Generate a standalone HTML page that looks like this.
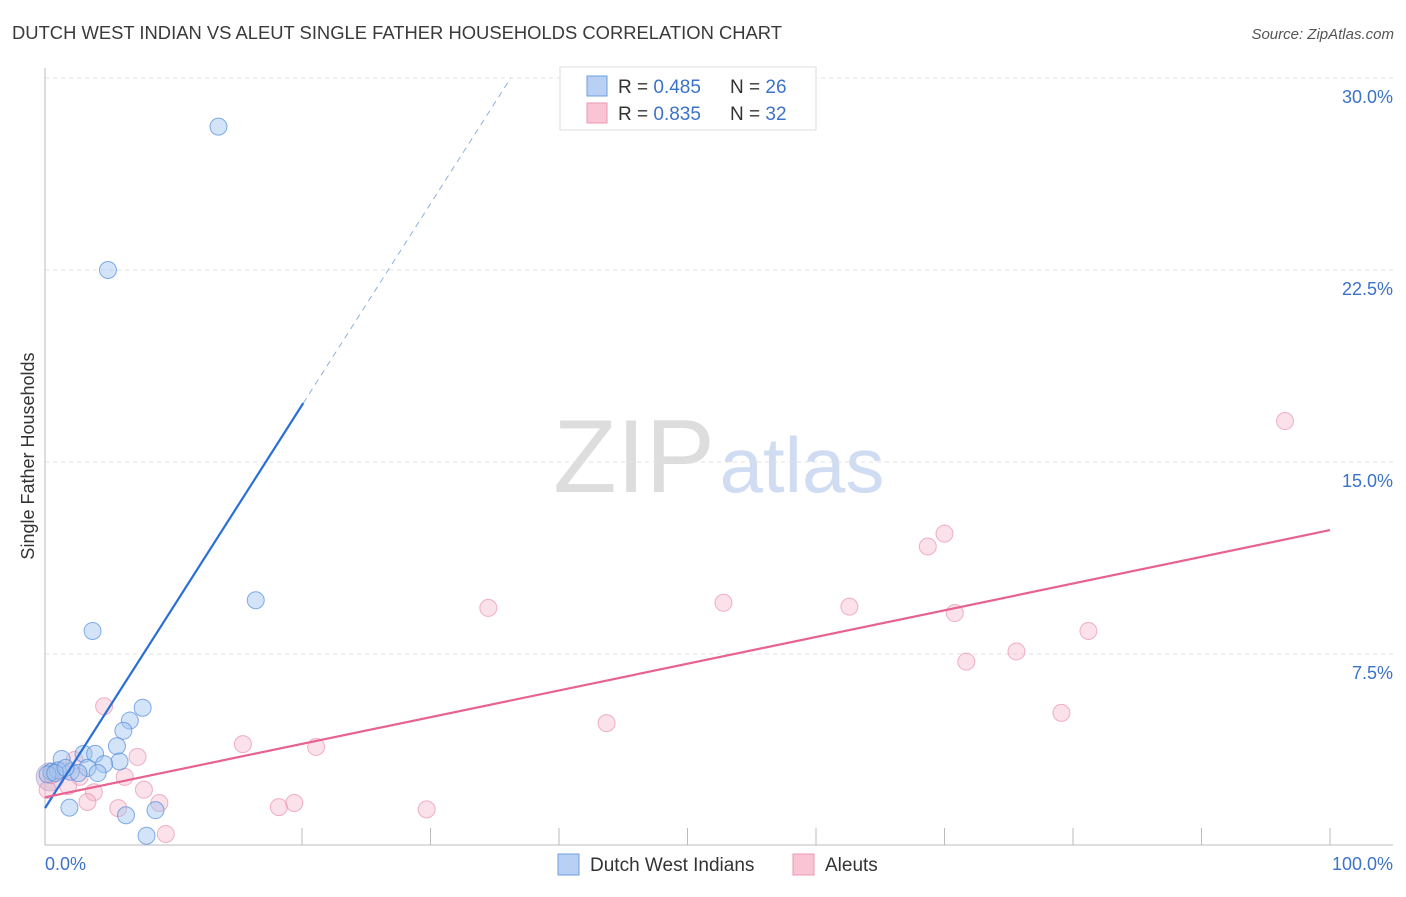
<!DOCTYPE html>
<html><head><meta charset="utf-8"><style>
body{margin:0;background:#fff;font-family:"Liberation Sans",sans-serif;}
svg text{font-family:"Liberation Sans",sans-serif;}
</style></head><body>
<svg width="1406" height="892" xmlns="http://www.w3.org/2000/svg">
<text x="12" y="39" font-size="18" textLength="770" lengthAdjust="spacingAndGlyphs" fill="#3a3a3a">DUTCH WEST INDIAN VS ALEUT SINGLE FATHER HOUSEHOLDS CORRELATION CHART</text>
<text x="1394" y="39" font-size="15" fill="#555" font-style="italic" text-anchor="end">Source: ZipAtlas.com</text>
<g>
<text x="634" y="492" font-size="104" fill="#ddd" font-family="Liberation Serif" text-anchor="middle">ZIP</text>
<text x="802" y="492" font-size="78" fill="#cfdcf2" text-anchor="middle">atlas</text>
</g>
<g id="grid"></g>
<g id="axes"></g>
<g id="marks"></g>
<text transform="translate(34,456) rotate(-90)" font-size="18" fill="#333" text-anchor="middle">Single Father Households</text>
<text x="45" y="870" font-size="18" fill="#3b73c8">0.0%</text>
<text x="1393" y="870" font-size="18" fill="#3b73c8" text-anchor="end">100.0%</text>
<g>
<rect x="560" y="67" width="256" height="63" fill="#fff" stroke="#ddd"/>
<rect x="587" y="76" width="20" height="20" fill="#b7d0f4" stroke="#6d9fe0"/>
<rect x="587" y="103" width="20" height="20" fill="#f9c5d4" stroke="#ec97b0"/>
<text x="618" y="93" font-size="19" fill="#333">R = <tspan fill="#3b73c8">0.485</tspan></text>
<text x="730" y="93" font-size="19" fill="#333">N = <tspan fill="#3b73c8">26</tspan></text>
<text x="618" y="120" font-size="19" fill="#333">R = <tspan fill="#3b73c8">0.835</tspan></text>
<text x="730" y="120" font-size="19" fill="#333">N = <tspan fill="#3b73c8">32</tspan></text>
</g>
<g>
<rect x="558" y="854" width="21" height="21" fill="#b7d0f4" stroke="#6d9fe0"/>
<text x="590" y="871" font-size="19" fill="#333">Dutch West Indians</text>
<rect x="793" y="854" width="21" height="21" fill="#f9c5d4" stroke="#ec97b0"/>
<text x="825" y="871" font-size="19" fill="#333">Aleuts</text>
</g>
</svg>
<script>
const yTicks=[7.5,15,22.5,30];
const yTickLabels=["7.5%","15.0%","22.5%","30.0%"];
const xTicks=[20,30,40,50,60,70,80,90,100];
const blueX=[13.5,4.9,16.4,3.7,7.6,6.6,6.1,5.6,3.0,3.9,1.3,5.8,4.6,3.3,4.1,2.0,0.5,1.0,0.2,2.6,1.9,6.3,8.6,7.9,0.8,1.6];
const blueY=[28.1,22.5,9.6,8.4,5.4,4.9,4.5,3.9,3.6,3.6,3.4,3.3,3.2,3.05,2.85,2.9,2.9,2.95,2.8,2.85,1.5,1.2,1.4,0.4,2.85,3.05];
const pinkX=[96.5,70.0,68.7,52.8,62.6,70.8,34.5,81.2,75.6,71.7,79.1,43.7,4.6,15.4,21.1,7.2,6.2,2.7,3.8,7.7,3.3,5.7,8.9,18.2,19.4,29.7,9.4,0.2,0.5,1.2,2.3,1.8];
const pinkY=[16.6,12.2,11.7,9.5,9.35,9.1,9.3,8.4,7.6,7.2,5.2,4.8,5.46,3.98,3.87,3.48,2.7,2.7,2.1,2.2,1.72,1.48,1.68,1.52,1.68,1.43,0.47,2.19,2.77,2.97,3.36,2.34];
const blueTrend=[1.48,0.787]; // intercept, slope
const pinkTrend=[1.9,0.1044];
const X=v=>45+v*12.85, Y=v=>846-v*25.6;
const NS="http://www.w3.org/2000/svg";
function mk(parent,tag,attrs){const e=document.createElementNS(NS,tag);for(const k in attrs)e.setAttribute(k,attrs[k]);document.getElementById(parent).appendChild(e);return e;}
yTicks.forEach((t,i)=>{
 const l=mk('grid','line',{x1:45,x2:1393,y1:Y(t),y2:Y(t),stroke:'#e2e2e2','stroke-dasharray':'4,4'});
 
 
 const tx=mk('grid','text',{x:1393,y:Y(t)+25,'font-size':18,fill:'#3b73c8','text-anchor':'end'});
 tx.textContent=yTickLabels[i];
 
 
});
let a=mk('axes','line',{x1:45,x2:45,y1:68,y2:845,stroke:'#bbb'});


a=mk('axes','line',{x1:45,x2:1393,y1:845,y2:845,stroke:'#bbb'});


xTicks.forEach(t=>{
 const l=mk('axes','line',{x1:X(t),x2:X(t),y1:828,y2:845,stroke:'#bbb'});
 
 
});
let b=mk('marks','circle',{cx:X(0.4),cy:Y(2.7),r:14,fill:'rgba(190,170,210,0.45)',stroke:'rgba(170,150,200,0.6)'});


pinkX.forEach((x,i)=>{
 const c=mk('marks','circle',{cx:X(x),cy:Y(pinkY[i]),r:8.5,fill:'rgba(246,180,200,0.4)',stroke:'rgba(232,130,165,0.6)'});
 
 
});
blueX.forEach((x,i)=>{
 const c=mk('marks','circle',{cx:X(x),cy:Y(blueY[i]),r:8.5,fill:'rgba(160,195,240,0.45)',stroke:'rgba(80,140,220,0.7)'});
 
 
});
const bs=20.1, be=(30-blueTrend[0])/blueTrend[1];
let t=mk('marks','line',{x1:X(0),y1:Y(blueTrend[0]),x2:X(bs),y2:Y(blueTrend[0]+blueTrend[1]*bs),stroke:'#2a6fd6','stroke-width':2.2});


t=mk('marks','line',{x1:X(bs),y1:Y(blueTrend[0]+blueTrend[1]*bs),x2:X(be),y2:Y(30),stroke:'#8fb0e0','stroke-width':1,'stroke-dasharray':'6,5'});


t=mk('marks','line',{x1:X(0),y1:Y(pinkTrend[0]),x2:X(100),y2:Y(pinkTrend[0]+pinkTrend[1]*100),stroke:'#e8628f','stroke-width':2.2});


</script>
</body></html>
